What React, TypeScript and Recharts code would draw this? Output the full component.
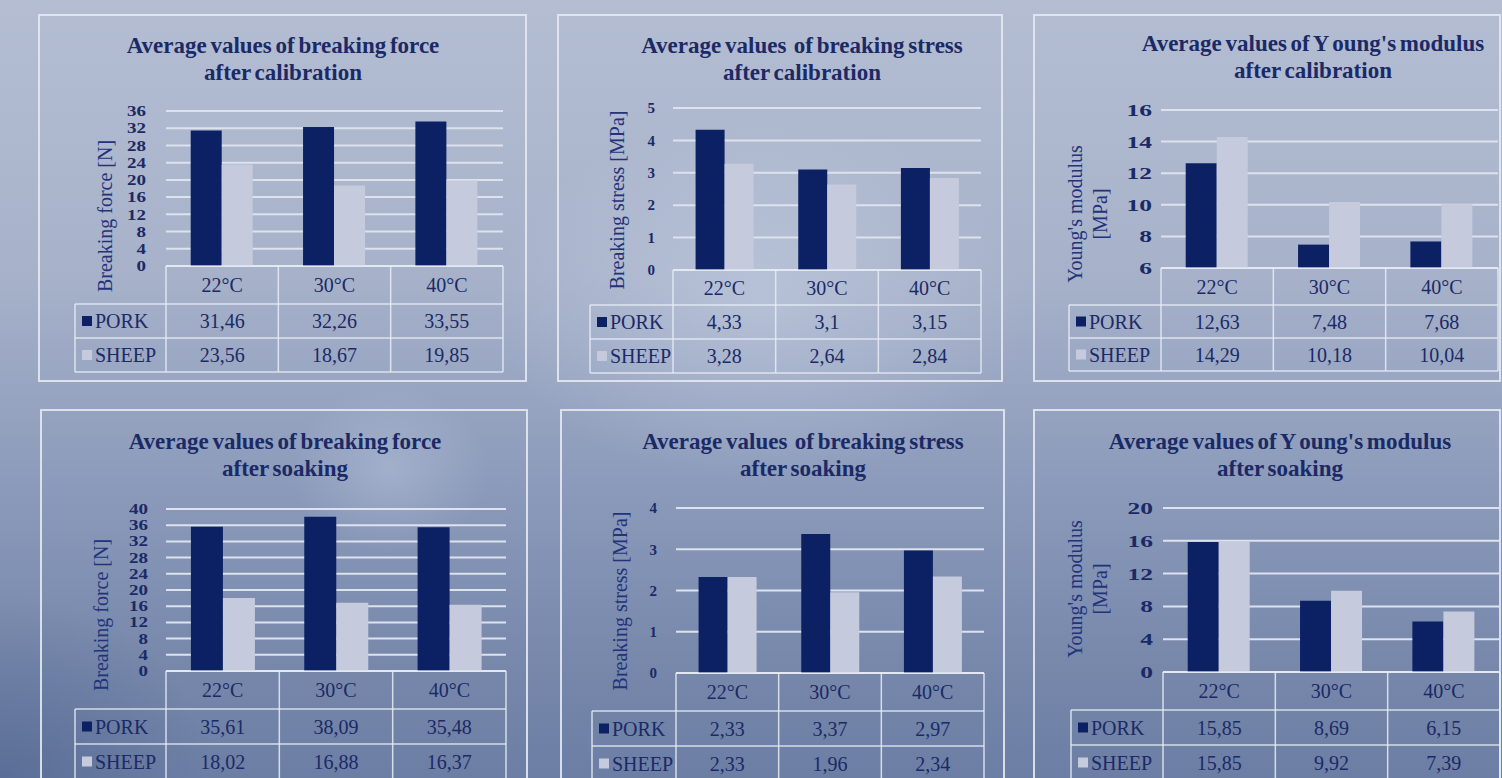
import React from 'react';
import { BarChart, Bar, XAxis, YAxis, CartesianGrid } from 'recharts';

// ---------- data ----------
const categories = ['22°C', '30°C', '40°C'];
const seriesNames = ['PORK', 'SHEEP'];

const forceCalPork = [31.46, 32.26, 33.55];
const forceCalSheep = [23.56, 18.67, 19.85];
const stressCalPork = [4.33, 3.1, 3.15];
const stressCalSheep = [3.28, 2.64, 2.84];
const youngCalPork = [12.63, 7.48, 7.68];
const youngCalSheep = [14.29, 10.18, 10.04];

const forceSoakPork = [35.61, 38.09, 35.48];
const forceSoakSheep = [18.02, 16.88, 16.37];
const stressSoakPork = [2.33, 3.37, 2.97];
const stressSoakSheep = [2.33, 1.96, 2.34];
const youngSoakPork = [15.85, 8.69, 6.15];
const youngSoakSheep = [15.85, 9.92, 7.39];

const ticksForceCal = [0, 4, 8, 12, 16, 20, 24, 28, 32, 36];
const ticksStressCal = [0, 1, 2, 3, 4, 5];
const ticksYoungCal = [6, 8, 10, 12, 14, 16];
const ticksForceSoak = [0, 4, 8, 12, 16, 20, 24, 28, 32, 36, 40];
const ticksStressSoak = [0, 1, 2, 3, 4];
const ticksYoungSoak = [0, 4, 8, 12, 16, 20];

const titleForceCal = ['Average values of breaking force', 'after calibration'];
const titleStressCal = ['Average values  of breaking stress', 'after calibration'];
const titleYoungCal = ["Average values of Y oung's modulus", 'after calibration'];
const titleForceSoak = ['Average values of breaking force', 'after soaking'];
const titleStressSoak = ['Average values  of breaking stress', 'after soaking'];
const titleYoungSoak = ["Average values of Y oung's modulus", 'after soaking'];

const labelForce = ['Breaking force [N]'];
const labelStress = ['Breaking stress [MPa]'];
const labelYoung = ["Young's modulus", '[MPa]'];

// ---------- styles ----------
const PORK_COLOR = '#0c2164';
const SHEEP_COLOR = '#c5cadc';
const TEXT = '#1b2a66';
const LINE = 'rgba(232,236,246,0.85)';
const FONT = '"Liberation Serif", "Times New Roman", Times, serif';

const fmt = (v: number) => String(v).replace('.', ',');

type Cfg = {
  box: number[]; // l, t, w, h
  plot: number[]; // l, t, r, b
  legendLeft: number;
  title: string[];
  titleCx: number;
  titleY: number;
  yLabel: string[];
  yLabelCx: number[];
  yLabelCy: number;
  ticks: number[];
  tickFont: { size: number; sx: number; sy: number };
  tickGap: number;
  headerH: number;
  rowH: number;
  pork: number[];
  sheep: number[];
};

const panels: Cfg[] = [
  {
    box: [38, 14, 489, 368], plot: [166, 111, 503, 266], legendLeft: 75,
    title: titleForceCal, titleCx: 283, titleY: 46,
    yLabel: labelForce, yLabelCx: [105], yLabelCy: 216,
    ticks: ticksForceCal, tickFont: { size: 19, sx: 1, sy: 0.78 }, tickGap: 20,
    headerH: 38, rowH: 34, pork: forceCalPork, sheep: forceCalSheep,
  },
  {
    box: [557, 14, 446, 368], plot: [673, 108, 981, 270], legendLeft: 590,
    title: titleStressCal, titleCx: 802, titleY: 46,
    yLabel: labelStress, yLabelCx: [617], yLabelCy: 200,
    ticks: ticksStressCal, tickFont: { size: 15, sx: 1, sy: 1 }, tickGap: 18,
    headerH: 35, rowH: 34, pork: stressCalPork, sheep: stressCalSheep,
  },
  {
    box: [1033, 14, 468, 368], plot: [1161, 110, 1498, 268], legendLeft: 1069,
    title: titleYoungCal, titleCx: 1313, titleY: 44,
    yLabel: labelYoung, yLabelCx: [1075, 1100], yLabelCy: 214,
    ticks: ticksYoungCal, tickFont: { size: 17, sx: 1.5, sy: 1 }, tickGap: 9,
    headerH: 37, rowH: 33, pork: youngCalPork, sheep: youngCalSheep,
  },
  {
    box: [40, 409, 488, 380], plot: [166, 509, 506, 671], legendLeft: 75,
    title: titleForceSoak, titleCx: 285, titleY: 442,
    yLabel: labelForce, yLabelCx: [101], yLabelCy: 615,
    ticks: ticksForceSoak, tickFont: { size: 19, sx: 1, sy: 0.75 }, tickGap: 18,
    headerH: 38, rowH: 35, pork: forceSoakPork, sheep: forceSoakSheep,
  },
  {
    box: [560, 409, 445, 380], plot: [676, 508, 984, 673], legendLeft: 592,
    title: titleStressSoak, titleCx: 803, titleY: 442,
    yLabel: labelStress, yLabelCx: [620], yLabelCy: 601,
    ticks: ticksStressSoak, tickFont: { size: 15, sx: 1, sy: 1 }, tickGap: 19,
    headerH: 38, rowH: 35, pork: stressSoakPork, sheep: stressSoakSheep,
  },
  {
    box: [1033, 409, 468, 380], plot: [1163, 508, 1500, 672], legendLeft: 1071,
    title: titleYoungSoak, titleCx: 1280, titleY: 442,
    yLabel: labelYoung, yLabelCx: [1075, 1100], yLabelCy: 589,
    ticks: ticksYoungSoak, tickFont: { size: 17, sx: 1.5, sy: 1 }, tickGap: 10,
    headerH: 38, rowH: 35, pork: youngSoakPork, sheep: youngSoakSheep,
  },
];

const Y_AXIS_W = 60;

function TableTick(props: any) {
  const { x, payload, index, cfg, rows } = props;
  const bw = (cfg.plot[2] - cfg.plot[0]) / rows.length;
  const y0 = cfg.plot[3] - cfg.box[1];
  const h = cfg.headerH;
  const r = cfg.rowH;
  const left = x - bw / 2;
  const right = x + bw / 2;
  const yB = y0 + h + 2 * r;
  const row = rows[index] || {};
  const ls = { stroke: LINE, strokeWidth: 1.5 };
  const ts = { fill: TEXT, fontSize: 20, style: { fontFamily: FONT }, textAnchor: 'middle' as const };
  const lx = cfg.legendLeft - cfg.box[0];
  return (
    <g>
      <line x1={left} x2={right} y1={y0} y2={y0} {...ls} />
      <line x1={left} x2={right} y1={y0 + h} y2={y0 + h} {...ls} />
      <line x1={left} x2={right} y1={y0 + h + r} y2={y0 + h + r} {...ls} />
      <line x1={left} x2={right} y1={yB} y2={yB} {...ls} />
      <line x1={left} x2={left} y1={y0} y2={yB} {...ls} />
      {index === rows.length - 1 && <line x1={right} x2={right} y1={y0} y2={yB} {...ls} />}
      <text x={x} y={y0 + h / 2} dy="0.35em" {...ts}>{payload.value}</text>
      <text x={x} y={y0 + h + r / 2} dy="0.35em" {...ts}>{fmt(row.pork)}</text>
      <text x={x} y={y0 + h + r * 1.5} dy="0.35em" {...ts}>{fmt(row.sheep)}</text>
      {index === 0 && (
        <g>
          <line x1={lx} x2={left} y1={y0 + h} y2={y0 + h} {...ls} />
          <line x1={lx} x2={left} y1={y0 + h + r} y2={y0 + h + r} {...ls} />
          <line x1={lx} x2={left} y1={yB} y2={yB} {...ls} />
          <line x1={lx} x2={lx} y1={y0 + h} y2={yB} {...ls} />
          <rect x={lx + 7} y={y0 + h + r / 2 - 5} width={10} height={10} fill={PORK_COLOR} />
          <rect x={lx + 7} y={y0 + h + r * 1.5 - 5} width={10} height={10} fill={SHEEP_COLOR} />
          <text x={lx + 20} y={y0 + h + r / 2} dy="0.35em" fill={TEXT} fontSize={20} style={{ fontFamily: FONT }}>{seriesNames[0]}</text>
          <text x={lx + 20} y={y0 + h + r * 1.5} dy="0.35em" fill={TEXT} fontSize={20} style={{ fontFamily: FONT }}>{seriesNames[1]}</text>
        </g>
      )}
    </g>
  );
}

function YTick(props: any) {
  const { x, y, payload, cfg } = props;
  const f = cfg.tickFont;
  return (
    <text
      transform={`translate(${x},${y}) scale(${f.sx},${f.sy})`}
      textAnchor="end"
      dy="0.35em"
      fill={TEXT}
      fontSize={f.size}
      fontWeight="bold"
      style={{ fontFamily: FONT }}
    >
      {payload.value}
    </text>
  );
}

function YLabel({ cfg }: { cfg: Cfg }) {
  const cy = cfg.yLabelCy - cfg.box[1];
  return (
    <g>
      {cfg.yLabel.map((s, i) => {
        const cx = cfg.yLabelCx[i] - cfg.box[0];
        return (
          <text
            key={i}
            x={cx}
            y={cy}
            transform={`rotate(-90, ${cx}, ${cy})`}
            textAnchor="middle"
            dy="0.35em"
            fill="#22337a"
            fontSize={20}
            style={{ fontFamily: FONT }}
          >
            {s}
          </text>
        );
      })}
    </g>
  );
}

function Panel({ cfg }: { cfg: Cfg }) {
  const [bl, bt, bw, bh] = cfg.box;
  const [pl, pt, pr, pb] = cfg.plot;
  const rows = categories.map((c, i) => ({ cat: c, pork: cfg.pork[i], sheep: cfg.sheep[i] }));
  const xAxisH = cfg.headerH + 2 * cfg.rowH;
  const margin = {
    top: pt - bt,
    left: pl - bl - Y_AXIS_W,
    right: bl + bw - pr,
    bottom: bh - (pb - bt) - xAxisH,
  };
  const domain = [cfg.ticks[0], cfg.ticks[cfg.ticks.length - 1]];
  return (
    <>
      <div
        style={{
          position: 'absolute', left: bl, top: bt, width: bw, height: bh,
          boxSizing: 'border-box', border: '2px solid rgba(228,232,242,0.9)',
        }}
      />
      <div
        style={{
          position: 'absolute', left: cfg.titleCx - 260, width: 520, top: cfg.titleY - 14,
          textAlign: 'center', fontFamily: FONT, fontWeight: 'bold', fontSize: 23,
          lineHeight: '27px', color: TEXT, whiteSpace: 'pre', wordSpacing: -2,
        }}
      >
        {cfg.title.map((t, i) => <div key={i}>{t}</div>)}
      </div>
      <div style={{ position: 'absolute', left: bl, top: bt }}>
        <BarChart
          width={bw}
          height={bh}
          data={rows}
          margin={margin}
          barCategoryGap="22%"
          barGap={0}
          style={{ fontFamily: FONT }}
        >
          <CartesianGrid vertical={false} stroke="#dde2ee" strokeWidth={2} />
          <XAxis
            dataKey="cat"
            height={xAxisH}
            axisLine={false}
            tickLine={false}
            tickSize={0}
            tickMargin={0}
            interval={0}
            tick={(p: any) => <TableTick {...p} cfg={cfg} rows={rows} />}
          />
          <YAxis
            width={Y_AXIS_W}
            domain={domain}
            ticks={cfg.ticks}
            interval={0}
            axisLine={false}
            tickLine={false}
            tickSize={0}
            tickMargin={cfg.tickGap}
            tick={(p: any) => <YTick {...p} cfg={cfg} />}
            label={() => <YLabel cfg={cfg} />}
          />
          <Bar dataKey="pork" name={seriesNames[0]} fill={PORK_COLOR} isAnimationActive={false} />
          <Bar dataKey="sheep" name={seriesNames[1]} fill={SHEEP_COLOR} isAnimationActive={false} />
        </BarChart>
      </div>
    </>
  );
}

export default function App() {
  return (
    <div
      style={{
        position: 'absolute', left: 0, top: 0, width: 1502, height: 778, overflow: 'hidden',
        fontFamily: FONT,
        background:
          'radial-gradient(ellipse 380px 260px at 760px 300px, rgba(205,214,232,0.45), rgba(205,214,232,0) 70%),' +
          'radial-gradient(ellipse 140px 120px at 390px 470px, rgba(200,210,230,0.35), rgba(200,210,230,0) 70%),' +
          'radial-gradient(ellipse 300px 260px at 0px 778px, rgba(70,90,135,0.45), rgba(70,90,135,0) 70%),' +
          'linear-gradient(180deg, #b4bdd2 0%, #a7b2ca 35%, #8c9bbb 62%, #7788ab 85%, #6c7ea4 100%)',
      }}
    >
      {panels.map((cfg, i) => <Panel key={i} cfg={cfg} />)}
    </div>
  );
}
